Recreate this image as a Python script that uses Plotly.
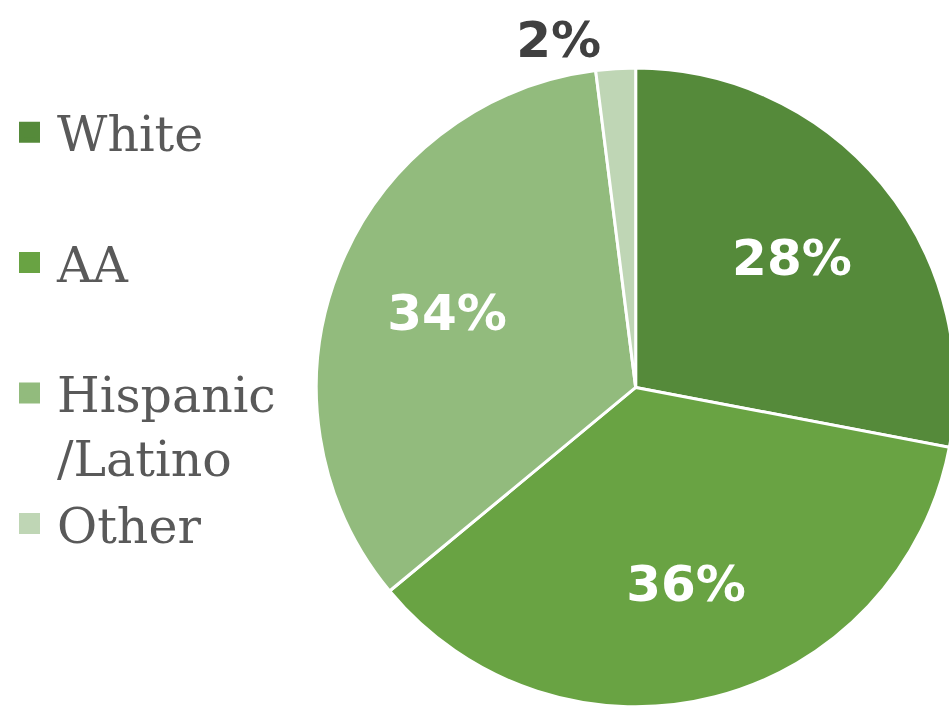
import plotly.graph_objects as go

categories = ["White", "AA", "Hispanic<br>/Latino", "Other"]
values = [28, 36, 34, 2]
colors = ["#558A3A", "#69A343", "#92BB7D", "#BFD6B5"]
label_colors = ["#FFFFFF", "#FFFFFF", "#FFFFFF", "#404040"]
label_positions = ["inside", "inside", "inside", "outside"]
# legend names, with spacer lines to reproduce the spread-out legend
legend_names = ["White<br> ", "AA<br> ", "Hispanic<br>/Latino", "Other"]

pie_domain = dict(x=[0.3302, 0.9969], y=[0.0056, 0.9045])

fig = go.Figure()

# the pie itself
fig.add_trace(
    go.Pie(
        labels=categories,
        values=values,
        sort=False,
        direction="clockwise",
        rotation=0,
        marker=dict(colors=colors, line=dict(color="#FFFFFF", width=3)),
        textinfo="none",
        hoverinfo="label+percent",
        showlegend=False,
        domain=pie_domain,
    )
)

# transparent ring carrying the percentage labels (places them further out)
fig.add_trace(
    go.Pie(
        labels=categories,
        values=values,
        sort=False,
        direction="clockwise",
        rotation=0,
        hole=0.27,
        marker=dict(colors=["rgba(0,0,0,0)"] * len(values), line=dict(width=0)),
        texttemplate="%{percent:.0%}",
        textposition=label_positions,
        textfont=dict(family="DejaVu Sans", size=50, color=label_colors, weight="bold"),
        hoverinfo="skip",
        showlegend=False,
        domain=pie_domain,
    )
)

# legend entries
for name, col in zip(legend_names, colors):
    fig.add_trace(
        go.Scatter(
            x=[None], y=[None], mode="markers", name=name,
            marker=dict(symbol="square", size=16, color=col, line=dict(color=col, width=5)),
            hoverinfo="skip",
        )
    )

fig.update_layout(
    width=960,
    height=712,
    margin=dict(l=0, r=0, t=0, b=0),
    paper_bgcolor="#FFFFFF",
    plot_bgcolor="#FFFFFF",
    xaxis=dict(visible=False),
    yaxis=dict(visible=False),
    showlegend=True,
    legend=dict(
        x=0.0021,
        y=0.868,
        xanchor="left",
        yanchor="top",
        valign="top",
        itemwidth=45,
        font=dict(family="DejaVu Serif", size=49, color="#595959"),
        bgcolor="rgba(0,0,0,0)",
        itemclick=False,
        itemdoubleclick=False,
    ),
)

fig.write_html(
    "out.html",
    config={"displayModeBar": False},
    post_script="document.body.style.margin='0';document.body.style.overflow='hidden';",
)
